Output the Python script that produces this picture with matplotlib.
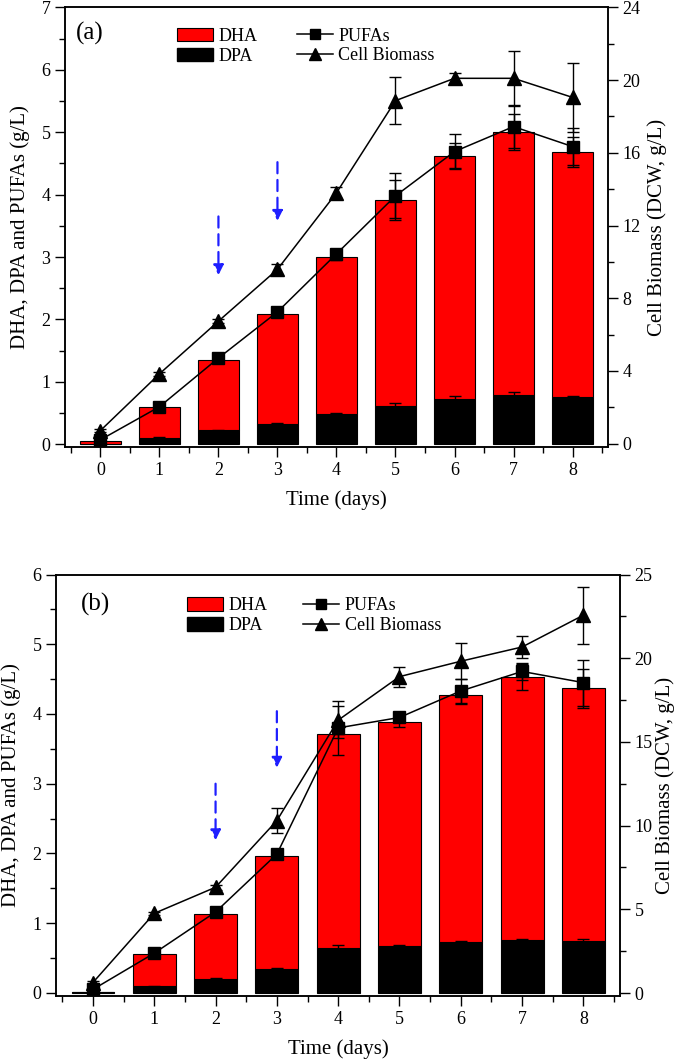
import matplotlib
matplotlib.use("Agg")
import matplotlib.pyplot as plt
from matplotlib.lines import Line2D
from matplotlib.patches import Patch
from matplotlib.ticker import MultipleLocator

plt.rcParams["font.family"] = ["Liberation Serif", "DejaVu Serif"]
plt.rcParams["axes.linewidth"] = 1.1

days = [0, 1, 2, 3, 4, 5, 6, 7, 8]

# panel (a)
dpa_a = [0.01, 0.10, 0.22, 0.33, 0.49, 0.62, 0.73, 0.79, 0.75]
dpa_err_a = [0, 0.01, 0.01, 0.01, 0.01, 0.04, 0.04, 0.04, 0.02]
dha_a = [0.04, 0.49, 1.13, 1.75, 2.51, 3.30, 3.89, 4.21, 3.94]
dha_err_a = [0, 0.02, 0.02, 0.03, 0.04, 0.32, 0.20, 0.29, 0.24]
pufa_a = [0.07, 0.60, 1.38, 2.12, 3.05, 3.98, 4.69, 5.09, 4.77]
pufa_err_a = [0.02, 0.03, 0.03, 0.05, 0.08, 0.36, 0.28, 0.35, 0.30]
biomass_a = [0.72, 3.84, 6.74, 9.59, 13.8, 18.87, 20.1, 20.1, 19.05]
biomass_err_a = [0.1, 0.1, 0.1, 0.3, 0.3, 1.28, 0.3, 1.5, 1.9]

# panel (b)
dpa_b = [0.01, 0.095, 0.20, 0.35, 0.645, 0.67, 0.73, 0.76, 0.74]
dpa_err_b = [0, 0.005, 0.01, 0.01, 0.04, 0.01, 0.01, 0.01, 0.03]
dha_b = [0.01, 0.465, 0.93, 1.61, 3.065, 3.21, 3.54, 3.77, 3.63]
dha_err_b = [0, 0.01, 0.01, 0.01, 0.05, 0.07, 0.13, 0.18, 0.28]
pufa_b = [0.05, 0.57, 1.16, 1.99, 3.80, 3.95, 4.33, 4.61, 4.45]
pufa_err_b = [0.01, 0.02, 0.02, 0.03, 0.39, 0.05, 0.17, 0.12, 0.33]
biomass_b = [0.63, 4.76, 6.32, 10.3, 16.3, 18.9, 19.82, 20.67, 22.57]
biomass_err_b = [0.1, 0.1, 0.15, 0.75, 0.85, 0.6, 1.07, 0.65, 1.7]

# feeding arrows (day, dashed start, tip) in left-axis units
feed_days = [2, 3]
arrow_top_a = [3.65, 4.52]
arrow_tip_a = [2.71, 3.58]
arrow_top_b = [3.0, 4.04]
arrow_tip_b = [2.19, 3.23]


def draw_panel(ax, tag, dpa, dpa_err, dha, dha_err, pufa, pufa_err, bio, bio_err,
               arrow_top, arrow_tip, ylim, ylim2, step2, leg_x, leg_y, line_x, tag_xy,
               rpad):
    err_kw = dict(ecolor="black", elinewidth=1.0, capsize=4.5, capthick=1.0)
    ax.bar(days, dpa, width=0.7, color="black", edgecolor="black", linewidth=0.8,
           yerr=dpa_err, error_kw=err_kw, zorder=2)
    ax.bar(days, dha, width=0.7, bottom=dpa, color="#ff0000", edgecolor="black",
           linewidth=0.8, yerr=dha_err, error_kw=err_kw, zorder=2)
    ax.errorbar(days, pufa, yerr=pufa_err, color="black", marker="s", markersize=8.5,
                linewidth=1.1, capsize=4.5, capthick=1.0, elinewidth=1.0, zorder=4)

    for d, top, tip in zip(feed_days, arrow_top, arrow_tip):
        ax.annotate("", xy=(d, tip), xytext=(d, top),
                    arrowprops=dict(arrowstyle="-|>", color="#1f1fff", lw=1.6,
                                    linestyle=(0, (5, 3)), mutation_scale=15,
                                    shrinkA=0, shrinkB=0))

    ax.set_xlim(-0.6, 8.6)
    ax.set_ylim(*ylim)
    ax.xaxis.set_major_locator(MultipleLocator(1))
    ax.xaxis.set_minor_locator(MultipleLocator(0.5))
    ax.yaxis.set_major_locator(MultipleLocator(1))
    ax.yaxis.set_minor_locator(MultipleLocator(0.5))
    ax.tick_params(axis="both", which="major", direction="out", length=7, width=1.0,
                   labelsize=13, top=False, right=False)
    ax.tick_params(axis="both", which="minor", direction="out", length=4, width=1.0,
                   top=False, right=False)
    ax.set_xlabel("Time (days)", fontsize=15, labelpad=8)
    ax.set_ylabel("DHA, DPA and PUFAs (g/L)", fontsize=15, labelpad=8)
    ax.text(tag_xy[0], tag_xy[1], tag, transform=ax.transAxes, fontsize=18,
            ha="left", va="center")

    ax2 = ax.twinx()
    ax2.errorbar(days, bio, yerr=bio_err, color="black", marker="^", markersize=9.5,
                 linewidth=1.1, capsize=4.5, capthick=1.0, elinewidth=1.0, zorder=4)
    ax2.set_ylim(*ylim2)
    ax2.yaxis.set_major_locator(MultipleLocator(step2))
    ax2.yaxis.set_minor_locator(MultipleLocator(step2 / 2))
    ax2.tick_params(axis="y", which="major", direction="out", length=7, width=1.0,
                    labelsize=13)
    ax2.tick_params(axis="y", which="minor", direction="out", length=4, width=1.0)
    ax2.set_ylabel("Cell Biomass (DCW, g/L)", fontsize=15, labelpad=rpad)

    bar_handles = [Patch(facecolor="#ff0000", edgecolor="black", linewidth=0.8, label="DHA"),
                   Patch(facecolor="black", edgecolor="black", label="DPA")]
    leg1 = ax2.legend(handles=bar_handles, loc="upper left", bbox_to_anchor=(leg_x, leg_y),
                      frameon=False, fontsize=13, handlelength=2.0, handleheight=0.8,
                      handletextpad=0.3, labelspacing=0.15, borderpad=0, borderaxespad=0)
    ax2.add_artist(leg1)
    line_handles = [Line2D([], [], color="black", marker="s", markersize=7, lw=1.1, label="PUFAs"),
                    Line2D([], [], color="black", marker="^", markersize=8, lw=1.1,
                           label="Cell Biomass")]
    ax2.legend(handles=line_handles, loc="upper left", bbox_to_anchor=(line_x, leg_y),
               frameon=False, fontsize=13, handlelength=2.0, handletextpad=0.3,
               labelspacing=0.15, borderpad=0, borderaxespad=0)
    return ax2


fig = plt.figure(figsize=(6.77, 10.6), dpi=100)
ax_a = fig.add_axes([0.096, 0.578, 0.802, 0.415])
ax_b = fig.add_axes([0.083, 0.060, 0.833, 0.398])

draw_panel(ax_a, "(a)", dpa_a, dpa_err_a, dha_a, dha_err_a, pufa_a, pufa_err_a,
           biomass_a, biomass_err_a, arrow_top_a, arrow_tip_a,
           (-0.05, 7), (-0.2, 24), 4, 0.206, 0.954, 0.427, (0.02, 0.941), 5)
draw_panel(ax_b, "(b)", dpa_b, dpa_err_b, dha_b, dha_err_b, pufa_b, pufa_err_b,
           biomass_b, biomass_err_b, arrow_top_b, arrow_tip_b,
           (-0.05, 6), (-0.2, 25), 5, 0.232, 0.946, 0.438, (0.043, 0.929), 2)

fig.savefig("out.png", dpi=100)
